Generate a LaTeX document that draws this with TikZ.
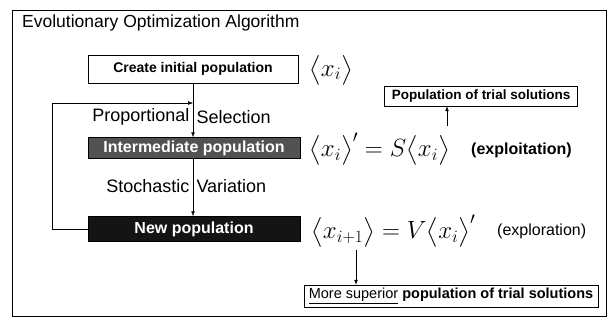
\documentclass[tikz,border=0pt]{standalone}
\usepackage{fontspec}
\setmainfont{Liberation Sans}
\usepackage{amsmath}
\usetikzlibrary{positioning,arrows.meta}

\begin{document}
\begin{tikzpicture}[x=1pt,y=-1pt]
    \useasboundingbox (0,0) rectangle (615,328);
    \node[draw,line width=1.2pt,minimum width=594pt,minimum height=306pt,anchor=north west] (frame) at (12,10) {};
    \node[anchor=west,inner sep=0pt,font=\fontsize{17.5}{20}\selectfont] (title) at (22,23) {Evolutionary Optimization Algorithm};

    \node[draw,semithick,minimum width=210pt,minimum height=28pt,font=\bfseries\fontsize{14}{16}\selectfont] (init) at (193,69) {Create initial population};
    \node[draw,semithick,fill=black!68,text=white,minimum width=212pt,minimum height=21pt,inner sep=0pt,font=\bfseries\fontsize{16}{18}\selectfont] (inter) at (194,148) {Intermediate population};
    \node[draw,semithick,fill=black!92,text=white,minimum width=212pt,minimum height=25pt,inner sep=0pt,font=\bfseries\fontsize{16}{18}\selectfont] (new) at (194,229) {New population};

    \node[anchor=west,inner sep=0pt,font=\fontsize{24}{27}\selectfont] (xi) at (309,70) {$\bigl\langle x_i\bigr\rangle$};
    \node[anchor=west,inner sep=0pt,font=\fontsize{24}{27}\selectfont] (sel) at (309,149) {$\bigl\langle x_i\bigr\rangle' = S\bigl\langle x_i\bigr\rangle$};
    \node[anchor=west,inner sep=0pt,font=\bfseries\fontsize{16}{18}\selectfont] (expt) at (471,150) {(exploitation)};
    \node[anchor=west,inner sep=0pt,font=\fontsize{24}{27}\selectfont] (var) at (311,231) {$\bigl\langle x_{i+1}\bigr\rangle = V\bigl\langle x_i\bigr\rangle'$};
    \node[anchor=west,inner sep=0pt,font=\fontsize{16}{18}\selectfont] (expr) at (497,231) {(exploration)};

    \node[draw,semithick,minimum width=193pt,minimum height=20pt,inner sep=0pt,font=\bfseries\fontsize{13.5}{15}\selectfont] (trial) at (481,96) {Population of trial solutions};
    \node[draw,semithick,minimum width=294pt,minimum height=22pt,inner sep=0pt,font=\fontsize{14.5}{16}\selectfont] (sup) at (451,296) {\underline{More superior}\ \textbf{population of trial solutions}};

    \coordinate (s1) at (447,126);
    \coordinate (v1) at (356,250);
    \coordinate (join) at (193,103);

    \draw[-Latex] (init.south) -- (init.south |- inter.north) node[left,pos=.62,font=\fontsize{18}{20}\selectfont] {Proportional} node[right,pos=.62,font=\fontsize{18}{20}\selectfont] {Selection};
    \draw[-Latex] (inter.south -| init.south) -- (init.south |- new.north) node[left,pos=.47,font=\fontsize{18}{20}\selectfont] {Stochastic} node[right,pos=.47,font=\fontsize{18}{20}\selectfont] {Variation};
    \draw[-Latex] (new.west) -- ++(-36,0) |- (join);
    \draw[-Latex] (s1) -- (s1 |- trial.south);
    \draw[-Latex] (v1) -- (v1 |- sup.north);
\end{tikzpicture}
\end{document}
